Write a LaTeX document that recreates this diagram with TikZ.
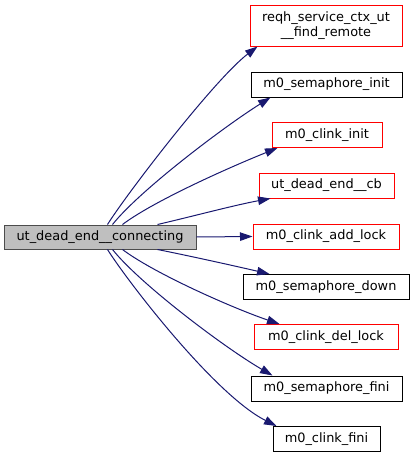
\documentclass[tikz,border=0pt]{standalone}
\usepackage{fontspec}
\setmainfont{DejaVu Sans}
\usetikzlibrary{arrows.meta,calc}
\definecolor{edgeblue}{HTML}{191970}
\definecolor{mainfill}{HTML}{BFBFBF}
\begin{document}
\begin{tikzpicture}[x=1pt,y=-1pt,
  every node/.style={font=\fontsize{12.9}{15}\selectfont, inner sep=0pt, align=center},
  fn/.style={draw=black, line width=1pt, fill=white, minimum height=25pt},
  fnred/.style={draw=red, line width=1pt, fill=white, minimum height=25pt},
  mainbox/.style={draw=black!70, line width=1pt, fill=mainfill, minimum height=24pt},
  call/.style={draw=edgeblue, line width=1pt, -{Triangle[length=12.5pt,width=8.5pt]}}]
\useasboundingbox (0,0) rectangle (415,458);
\node[mainbox, minimum width=192pt] (m) at (100,237) {ut\_dead\_end\_\_connecting};
\node[fnred, minimum width=152pt, minimum height=41pt] (b1) at (326,25.5) {reqh\_service\_ctx\_ut\\\_\_find\_remote};
\node[fn, minimum width=151pt] (b2) at (326.5,84.5) {m0\_semaphore\_init};
\node[fnred, minimum width=110pt] (b3) at (327,135) {m0\_clink\_init};
\node[fnred, minimum width=135pt] (b4) at (326.5,185.5) {ut\_dead\_end\_\_cb};
\node[fnred, minimum width=146pt] (b5) at (326,236.5) {m0\_clink\_add\_lock};
\node[fn, minimum width=166pt] (b6) at (326,287) {m0\_semaphore\_down};
\node[fnred, minimum width=144pt] (b7) at (326,337) {m0\_clink\_del\_lock};
\node[fn, minimum width=151pt] (b8) at (326.5,388.5) {m0\_semaphore\_fini};
\node[fn, minimum width=107pt] (b9) at (326.5,439) {m0\_clink\_fini};
\draw[call] ($(m.north west)+(104,0)$) .. controls (128,192) and (215,79) .. ($(b1.south west)+(8,0)$);
\draw[call] ($(m.north west)+(109,0)$) .. controls (140,190) and (225,126) .. ($(b2.south west)+(20,0)$);
\draw[call] ($(m.north west)+(119,0)$) .. controls (155,200) and (235,165) .. ($(b3.south west)+(6,0)$);
\draw[call] ($(m.north west)+(154,0)$) .. controls (190,217) and (235,205) .. ($(b4.south west)+(12,0)$);
\draw[call] (m.east) -- (b5.west);
\draw[call] ($(m.south west)+(154,0)$) .. controls (190,256) and (235,266) .. ($(b6.north west)+(27,0)$);
\draw[call] ($(m.south west)+(119,0)$) .. controls (155,274) and (235,309) .. ($(b7.north west)+(26,0)$);
\draw[call] ($(m.south west)+(109,0)$) .. controls (140,284) and (225,348) .. ($(b8.north west)+(22,0)$);
\draw[call] ($(m.south west)+(104,0)$) .. controls (128,282) and (215,395) .. ($(b9.north west)+(4,0)$);
\end{tikzpicture}
\end{document}
